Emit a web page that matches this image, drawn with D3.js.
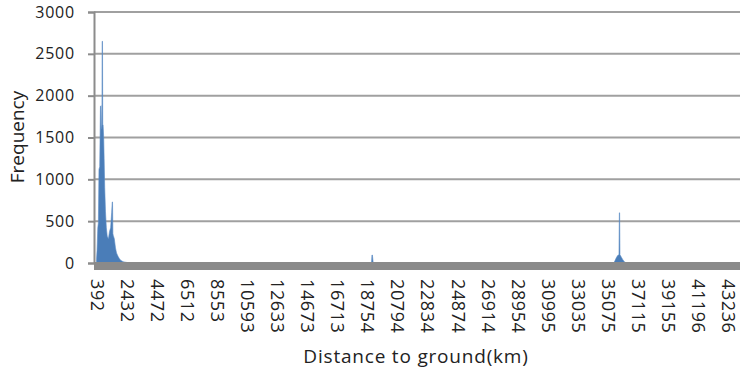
<!DOCTYPE html>
<html>
<head>
<meta charset="utf-8">
<script src="https://cdn.jsdelivr.net/npm/d3@7"></script>
<style>
  body { margin: 0; background: #fff; }
  svg { display: block; font-family: "Open Sans", sans-serif; }
</style>
</head>
<body>
<div id="root"></div>
<script>
// y ticks and x category labels as shown (every 100th bin)
const yTicks = [0, 500, 1000, 1500, 2000, 2500, 3000];
const xTickLabels = [392, 2432, 4472, 6512, 8553, 10593, 12633, 14673, 16713, 18754,
  20794, 22834, 24874, 26914, 28954, 30995, 33035, 35075, 37115, 39155, 41196, 43236];

// histogram: distance (km) and frequency
const distanceKm = [
  392, 430, 480, 520, 560, 610, 660, 700, 730, 760, 775, 800, 815, 840, 880, 910, 950, 1000,
  1060, 1120, 1200, 1280, 1350, 1420, 1460, 1480, 1505, 1530, 1600, 1680, 1750, 1850,
  1950, 2050, 2200, 2400, 2600, 2800,
  19050, 19080, 19110, 19160, 19190,
  35450, 35550, 35650, 35750, 35840, 35865, 35885, 35905, 35940, 36000, 36100, 36200, 36300, 36400
];
const frequency = [
  40, 150, 420, 480, 1120, 1150, 1870, 1880, 1600, 1650, 2650, 2650, 1650, 1650, 1500, 1250, 900, 620,
  420, 320, 290, 380, 420, 600, 730, 730, 350, 330, 290, 180, 120, 80,
  50, 30, 15, 8, 3, 0,
  0, 95, 95, 10, 0,
  0, 20, 60, 90, 100, 600, 600, 100, 90, 70, 40, 15, 5, 0
];

const width = 740;
const height = 374;

const svg = d3.select("#root")
  .append("svg")
    .attr("width", width)
    .attr("height", height);

const x = d3.scaleLinear()
  .domain([392, 43236])
  .range([96.5, 728]);

const y = d3.scaleLinear()
  .domain([0, 3000])
  .range([263, 12]);

const plotLeft = 94;
const plotRight = width;

// gridlines
svg.append("g")
  .selectAll("line")
  .data(yTicks)
  .enter()
  .append("line")
    .attr("x1", plotLeft)
    .attr("x2", plotRight)
    .attr("y1", d => y(d))
    .attr("y2", d => y(d))
    .attr("stroke", "#a0a0a0")
    .attr("stroke-width", 2);

// y axis
const yAxis = svg.append("g")
  .attr("transform", `translate(${plotLeft},0)`)
  .call(d3.axisLeft(y).tickValues(yTicks).tickSize(6).tickPadding(13).tickFormat(d3.format("d")));
yAxis.select(".domain").attr("stroke", "#8c8c8c").attr("stroke-width", 2);
yAxis.selectAll(".tick line").attr("stroke", "#8c8c8c").attr("stroke-width", 2);
yAxis.selectAll("text")
  .attr("font-size", 16)
  .attr("font-family", "Open Sans")
  .attr("letter-spacing", 0.8)
  .attr("fill", "#222");

// histogram
const points = distanceKm.map((d, i) => ({ km: d, f: frequency[i] }));
const area = d3.area()
  .x(d => x(d.km))
  .y0(y(0))
  .y1(d => y(d.f));

svg.append("path")
  .datum(points)
  .attr("d", area)
  .attr("fill", "#4a7db8")
  .attr("stroke", "#5a8cc4")
  .attr("stroke-width", 0.6);

// dense category tick band under the baseline
svg.append("rect")
  .attr("x", plotLeft)
  .attr("y", y(0) - 1)
  .attr("width", plotRight - plotLeft)
  .attr("height", 8)
  .attr("fill", "#8a8a8a");

// x axis labels
const xAxis = svg.append("g")
  .attr("transform", `translate(0,${y(0) + 7})`)
  .call(d3.axisBottom(x).tickValues(xTickLabels).tickSize(0).tickFormat(d3.format("d")));
xAxis.select(".domain").remove();
xAxis.selectAll("text")
  .attr("transform", "rotate(90)")
  .attr("x", 9)
  .attr("y", 0)
  .attr("dy", "0.35em")
  .style("text-anchor", "start")
  .attr("font-size", 18)
  .attr("font-family", "Open Sans")
  .attr("letter-spacing", 0.6)
  .attr("fill", "#222");

// axis titles
svg.append("text")
  .attr("transform", "translate(24,137) rotate(-90)")
  .attr("text-anchor", "middle")
  .attr("font-size", 19)
  .attr("fill", "#222")
  .text("Frequency");

svg.append("text")
  .attr("x", 416)
  .attr("y", 363)
  .attr("text-anchor", "middle")
  .attr("font-size", 19)
  .attr("letter-spacing", 0.8)
  .attr("fill", "#222")
  .text("Distance to ground(km)");
</script>
</body>
</html>
